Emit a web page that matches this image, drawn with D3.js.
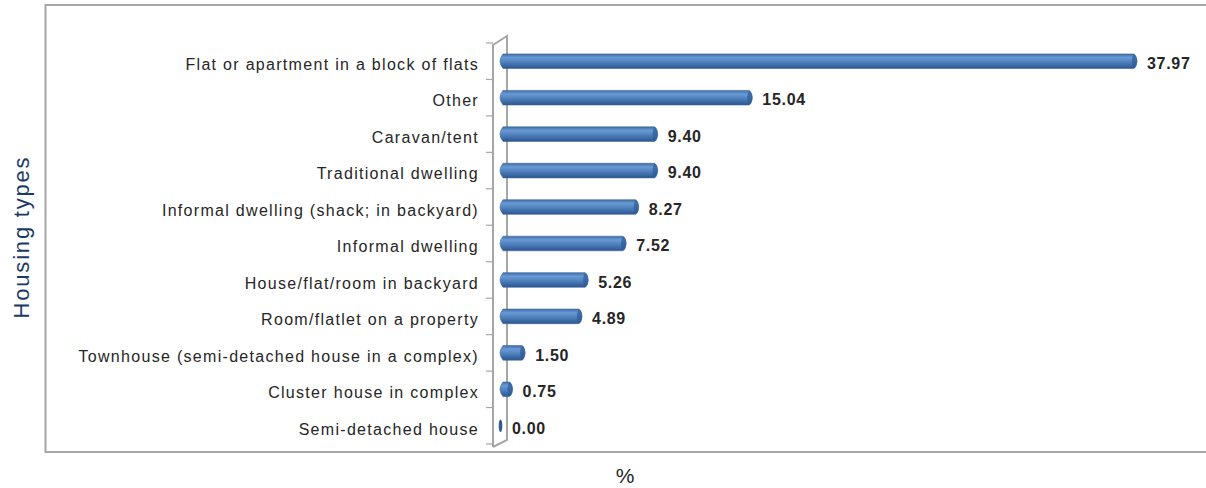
<!DOCTYPE html>
<html><head><meta charset="utf-8">
<script src="https://cdn.jsdelivr.net/npm/d3@7"></script>
<style>body{margin:0;background:#fff}svg{display:block}</style>
</head><body><svg id="c" width="1206" height="488"></svg>
<script>
const categories = ["Flat or apartment in a block of flats","Other","Caravan/tent","Traditional dwelling","Informal dwelling (shack; in backyard)","Informal dwelling ","House/flat/room in backyard","Room/flatlet on a property ","Townhouse (semi-detached house in a complex)","Cluster house in complex","Semi-detached house"];
const values = [37.97,15.04,9.40,9.40,8.27,7.52,5.26,4.89,1.50,0.75,0.00];
const yTitle = "Housing types";
const xTitle = "%";

const svg = d3.select("#c");
const font = "'Liberation Sans', Arial, sans-serif";
const defs = svg.append("defs");
const g = defs.append("linearGradient").attr("id","bg").attr("x1",0).attr("y1",0).attr("x2",0).attr("y2",1);
g.append("stop").attr("offset","0%").attr("stop-color","#3f6ea8");
g.append("stop").attr("offset","25%").attr("stop-color","#6a9ad6");
g.append("stop").attr("offset","55%").attr("stop-color","#4f81bd");
g.append("stop").attr("offset","100%").attr("stop-color","#2c5690");

// frame
svg.append("path").attr("d","M1210,5H45.5V452H1210").attr("fill","none").attr("stroke","#a6a6a6").attr("stroke-width",2);

const x = d3.scaleLinear().domain([0,37.97]).range([500,1137]);
const y = d3.scaleBand().domain(categories).range([43,444]).paddingInner(0.6).paddingOuter(0.3);
const yb = d3.scaleBand().domain(categories).range([43,444]);

// 3D wall
const wall = svg.append("g").attr("stroke","#a6a6a6").attr("fill","none").attr("stroke-width",2);
wall.append("path").attr("d","M493,447V45L507,36V440L493,447");
wall.selectAll("line.t").data(categories.concat(["_end"])).join("line")
  .attr("x1",486).attr("x2",493)
  .attr("y1",(d,i)=> i<categories.length ? yb(d) : 444)
  .attr("y2",(d,i)=> i<categories.length ? yb(d) : 444)
  .attr("stroke-width",1.2);

// bars
const bars = svg.append("g");
categories.forEach((c,i)=>{
  const v = values[i];
  const y0 = y(c), h = y.bandwidth();
  const x0 = x(0), x1 = x(v);
  const r = 3;
  if (v > 0.1) {
    bars.append("path")
      .attr("d",`M${x0+r},${y0}H${x1-r}Q${x1+r},${y0+h/2} ${x1-r},${y0+h}H${x0+r}Q${x0-r},${y0+h/2} ${x0+r},${y0}Z`)
      .attr("fill","url(#bg)").attr("stroke","#3a6698").attr("stroke-width",0.6);
    bars.append("ellipse").attr("cx",x1-r+0.5).attr("cy",y0+h/2).attr("rx",2.6).attr("ry",h/2-0.5)
      .attr("fill","#2e5b96").attr("opacity",0.7);
  } else {
    bars.append("ellipse").attr("cx",x0+0.5).attr("cy",y0+h/2).attr("rx",1.8).attr("ry",h/2-1)
      .attr("fill","#2e5b96");
  }
  svg.append("text").attr("x",x1+ (v>0.1?10:12)).attr("y",y0+h/2+2).attr("dy","0.36em")
    .attr("font-family",font).attr("font-size",16).attr("font-weight","bold").attr("fill","#262626")
    .attr("letter-spacing",0.7)
    .text(v.toFixed(2));
});

// category labels
svg.append("g").selectAll("text").data(categories).join("text")
  .attr("x",479).attr("y",d=>yb(d)+yb.bandwidth()/2+3).attr("dy","0.36em")
  .attr("text-anchor","end").attr("font-family",font).attr("font-size",16).attr("fill","#262626")
  .attr("letter-spacing",1.3)
  .text(d=>d);

svg.append("text").attr("transform","translate(29,237) rotate(-90)").attr("text-anchor","middle")
  .attr("font-family",font).attr("font-size",22).attr("letter-spacing",1.8).attr("fill","#1a3a66").text(yTitle);
svg.append("text").attr("x",625).attr("y",483).attr("text-anchor","middle")
  .attr("font-family",font).attr("font-size",21).attr("fill","#262626").text(xTitle);
</script></body></html>
